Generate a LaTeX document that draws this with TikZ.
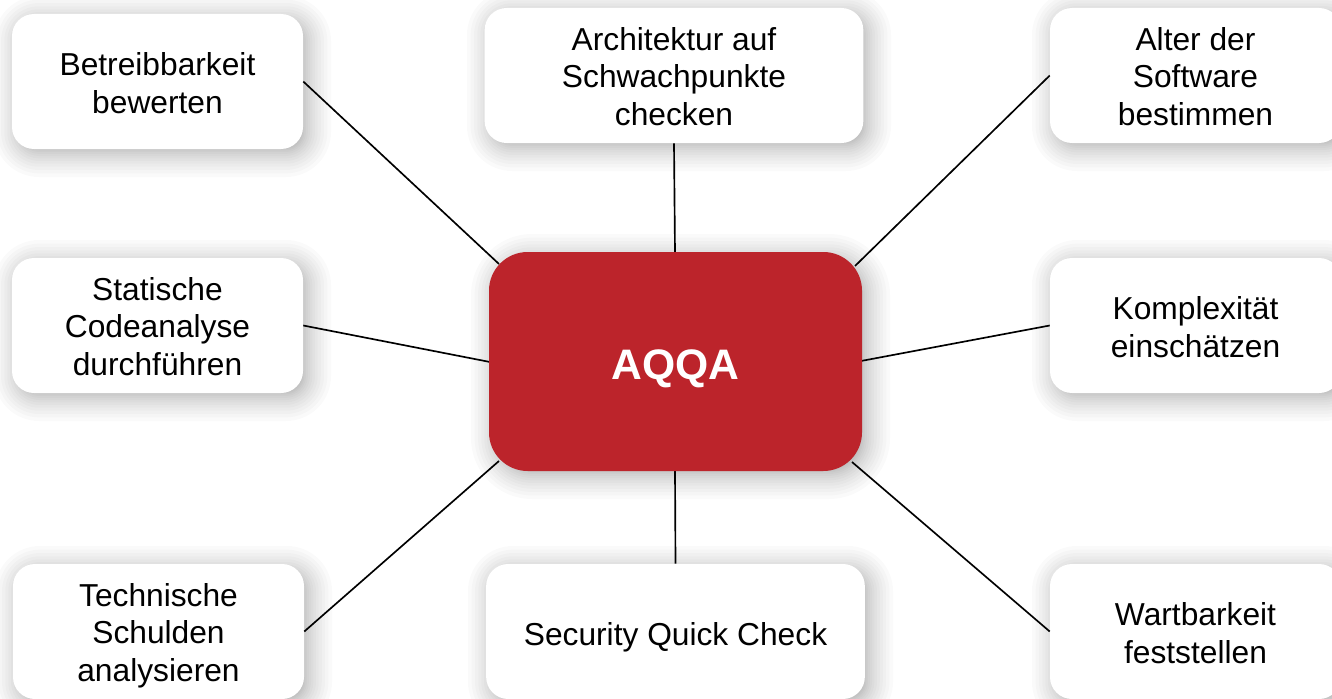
\documentclass[tikz,border=0pt]{standalone}
\usepackage{fontspec}
\setmainfont{Liberation Sans}
\newcommand{\softshadow}[5]{%
  \foreach \i in {0,...,15}{%
    \pgfmathsetmacro{\dd}{-8+31*(1-\i/15)^1.8}%
    \pgfmathsetmacro{\rr}{max(4,#5+\dd)*0.75}%
    \fill[black,opacity=0.021,rounded corners=\rr pt]
      (#1+5-\dd,#2+5-\dd) rectangle (#3+5+\dd,#4+5+\dd);
  }%
}
% text block lowered by #1 pixels, keeping its nominal box
\newcommand{\txt}[2]{\raisebox{\dimexpr -#1pt*3/4\relax}[\height][\depth]{\begin{tabular}{@{}c@{}}#2\end{tabular}}}
\tikzset{
  x=0.75pt,y=-0.75pt,
  box/.style={draw=none,fill=white,rounded corners=16.5pt,minimum width=218.25pt,minimum height=101.25pt,
    inner sep=0pt,text=black,font=\fontsize{23.8}{28.1}\selectfont},
  widebox/.style={box,minimum width=284pt},
  hub/.style={draw=none,fill=hubred,rounded corners=29pt,minimum width=279.75pt,minimum height=164.25pt,
    inner sep=0pt,text=white,font=\fontsize{32}{38}\selectfont\bfseries},
  link/.style={draw=black,line width=1.25pt}
}
\definecolor{hubred}{HTML}{BC242B}
\begin{document}
\begin{tikzpicture}
\useasboundingbox (0,0) rectangle (1332,699);
\clip (0,0) rectangle (1332,699);
\fill[white] (0,0) rectangle (1332,699);
% soft shadows
\softshadow{12}{14}{303}{149}{22}
\softshadow{485}{8}{863}{143}{22}
\softshadow{1050}{8}{1341}{143}{22}
\softshadow{12}{258}{303}{393}{22}
\softshadow{1050}{258}{1341}{393}{22}
\softshadow{13}{564}{304}{699}{22}
\softshadow{486}{564}{865}{699}{22}
\softshadow{1050}{564}{1341}{699}{22}
\softshadow{489}{252}{862}{471}{38}
% hub attachment points
\coordinate (hNW) at (499,264);
\coordinate (hNE) at (855,266);
\coordinate (hSW) at (499,461);
\coordinate (hSE) at (852,462);
\coordinate (hW) at (490,362);
\coordinate (hE) at (861,361);
\coordinate (hN) at (675,253);
\coordinate (hS) at (675,470);
% nodes
\node[box] (betrieb) at (157.5,81.5) {\txt{5.7}{Betreibbarkeit\\bewerten}};
\node[widebox] (arch) at (674,75.5) {\txt{5}{Architektur auf\\Schwachpunkte\\checken}};
\node[box] (alter) at (1195.5,75.5) {\txt{5}{Alter der\\Software\\bestimmen}};
\node[box] (static) at (157.5,325.5) {\txt{5}{Statische\\Codeanalyse\\durchführen}};
\node[box] (komplex) at (1195.5,325.5) {\txt{5.7}{Komplexität\\einschätzen}};
\node[box] (schulden) at (158.5,631.5) {\txt{5}{Technische\\Schulden\\analysieren}};
\node[widebox] (security) at (675.5,631.5) {\txt{7}{Security Quick Check}};
\node[box] (wartbar) at (1195.5,631.5) {\txt{5.7}{Wartbarkeit\\feststellen}};
% connectors
\draw[link] (betrieb.east) -- (hNW);
\draw[link] (arch.south) -- (hN);
\draw[link] (alter.west) -- (hNE);
\draw[link] (static.east) -- (hW);
\draw[link] (komplex.west) -- (hE);
\draw[link] (schulden.east) -- (hSW);
\draw[link] (security.north) -- (hS);
\draw[link] (wartbar.west) -- (hSE);
\node[hub] (aqqa) at (675.5,361.5) {\txt{8}{AQQA}};
\end{tikzpicture}
\end{document}
